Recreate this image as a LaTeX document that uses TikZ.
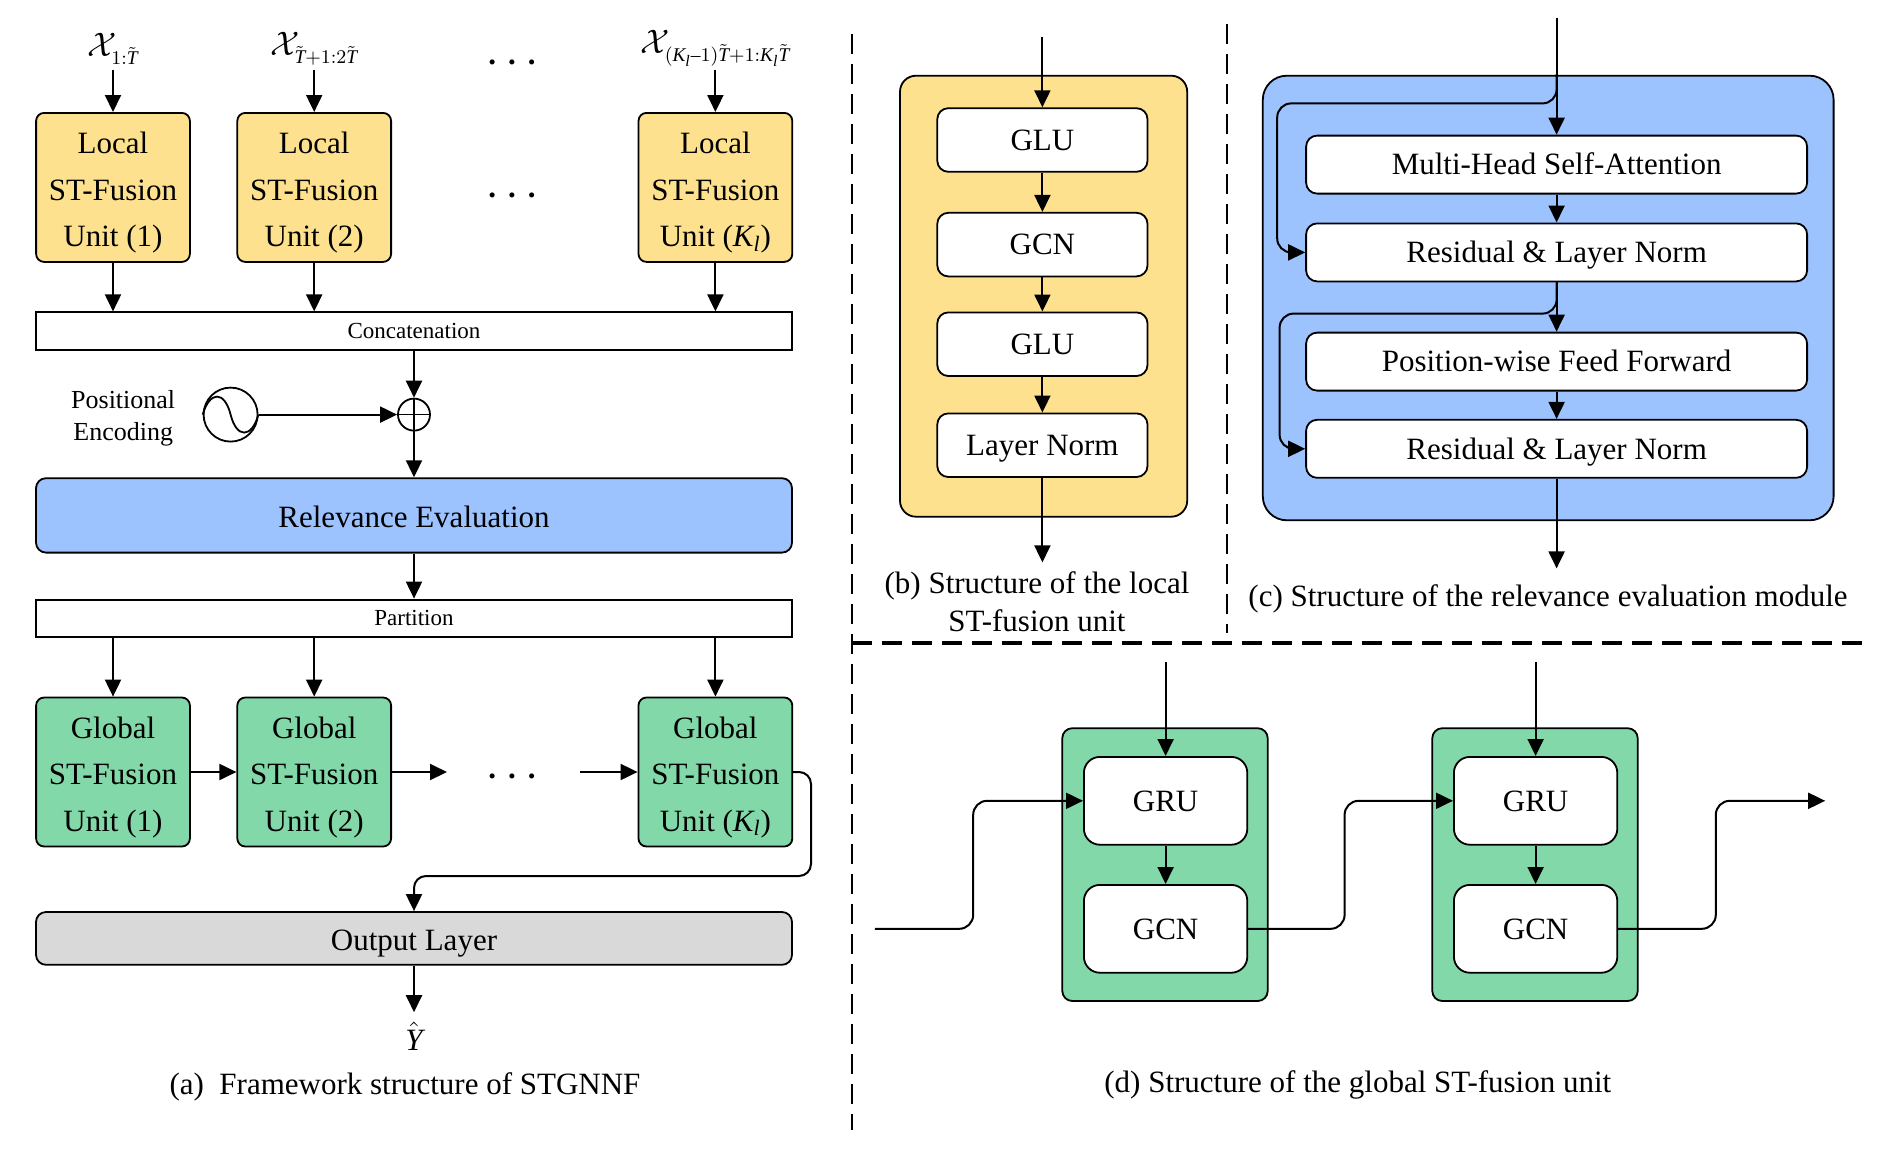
\documentclass[tikz,border=0pt]{standalone}
\usepackage{fix-cm}
\usepackage{amsmath}
\usepackage{fontspec}
\setmainfont{Liberation Serif}
\usepackage[italic]{mathastext}
\DeclareMathSizes{17}{17}{9.7}{8}
\DeclareMathSizes{15.5}{15.5}{11}{9}
\usetikzlibrary{shapes.geometric, arrows.meta}
\definecolor{localcol}{HTML}{FEE18E}
\definecolor{relcol}{HTML}{9DC3FF}
\definecolor{globalcol}{HTML}{82D8A8}
\definecolor{outcol}{HTML}{D9D9D9}
\newcommand{\mainsize}{\fontsize{15.5}{23.25}\selectfont}
\newcommand{\gapdots}{\textbf{.\hspace{6pt}.\hspace{6pt}.}}
\newcommand{\topgap}{\rule{0pt}{16pt}}
\newcommand{\subdrop}{\rule{0pt}{10pt}}
\tikzstyle{unitbase} = [rectangle, rounded corners=4pt, minimum width=76.9pt, minimum height=74.5pt, inner sep=0pt, align=center, draw=black, line width=0.9pt, font=\mainsize]
\tikzstyle{localbox} = [unitbase, fill=localcol]
\tikzstyle{globalbox} = [unitbase, fill=globalcol]
\tikzstyle{barbox} = [rectangle, minimum width=378pt, minimum height=18.6pt, inner sep=0pt, text height=7.6pt, text depth=0pt, draw=black, line width=1pt, fill=white, font=\fontsize{11.5}{13}\selectfont]
\tikzstyle{widebox} = [rectangle, rounded corners=5pt, minimum width=378pt, inner sep=0pt, text height=12.5pt, text depth=0pt, draw=black, line width=0.9pt, font=\mainsize]
\tikzstyle{outerbox} = [rectangle, draw=black, line width=0.9pt]
\tikzstyle{stepbox} = [rectangle, rounded corners=5.5pt, minimum width=105.1pt, minimum height=31.8pt, inner sep=0pt, text height=10.3pt, text depth=0pt, draw=black, line width=0.9pt, fill=white, font=\mainsize]
\tikzstyle{attnbox} = [stepbox, minimum width=250.5pt, minimum height=29pt]
\tikzstyle{cellbox} = [stepbox, rounded corners=8pt, minimum width=81.7pt, minimum height=43.9pt]
\tikzstyle{caption} = [align=center, inner sep=0pt, font=\fontsize{15.5}{19}\selectfont]
\tikzstyle{inlabel} = [inner sep=0pt, font=\fontsize{17}{17}\selectfont]
\tikzstyle{dotlabel} = [inner sep=0pt, font=\mainsize]
\tikzstyle{arrow} = [line width=1pt,-{Triangle[length=8.5pt,width=8pt]}]
\tikzstyle{rule} = [line width=1.2pt, dash pattern=on 10pt off 5pt]
\begin{document}
\begin{tikzpicture}[x=1pt,y=1pt]
	
		\useasboundingbox (0,0) rectangle (942,-578.5);
		
		% Framework structure
		\node (local1) [localbox] at (56.5,-93.7) {\topgap Local\\ST-Fusion\\Unit (1)};
		\node (local2) [localbox, right of=local1, node distance=100.6pt] {\topgap Local\\ST-Fusion\\Unit (2)};
		\node (local3) [localbox, right of=local2, node distance=200.6pt] {\topgap Local\\ST-Fusion\\Unit ($K_l$)};
		\node (xin1) [inlabel, above of=local1, node distance=69.4pt] {$\mathcal{X}_{\subdrop 1:\tilde{T}}$};
		\node (xin2) [inlabel, above of=local2, node distance=69.4pt] {$\mathcal{X}_{\subdrop \tilde{T}+1:2\tilde{T}}$};
		\node (xin3) [inlabel, above of=local3, node distance=69.4pt] {$\mathcal{X}_{\subdrop (K_l-1)\tilde{T}+1:K_l\tilde{T}}$};
		\coordinate [above of=local1, node distance=58.9pt] (arr1);
		\coordinate [above of=local2, node distance=58.9pt] (arr2);
		\coordinate [above of=local3, node distance=58.9pt] (arr3);
		\node (dots1) [dotlabel] at (256,-31) {\gapdots};
		\node (dots2) [dotlabel] at (256,-97.6) {\gapdots};
		\node (concat) [barbox] at (207,-165.5) {Concatenation};
		\node (plus) [circle, draw=black, line width=0.9pt, minimum size=16pt, inner sep=0pt, below of=concat, node distance=41.8pt] {};
		\node (sine) [circle, draw=black, line width=0.9pt, minimum size=27pt, inner sep=0pt, left of=plus, node distance=91.7pt] {};
		\node (posenc) [left of=sine, node distance=53.7pt, yshift=-1.8pt, align=center, inner sep=0pt, font=\fontsize{13}{16}\selectfont] {Positional\\Encoding};
		\node (relev) [widebox, fill=relcol, minimum height=37.2pt, below of=plus, node distance=50.4pt] {Relevance Evaluation};
		\node (part) [barbox, below of=relev, node distance=51.4pt] {Partition};
		\node (global1) [globalbox, below of=local1, node distance=292.3pt] {\topgap Global\\ST-Fusion\\Unit (1)};
		\node (global2) [globalbox, right of=global1, node distance=100.6pt] {\topgap Global\\ST-Fusion\\Unit (2)};
		\node (global3) [globalbox, right of=global2, node distance=200.6pt] {\topgap Global\\ST-Fusion\\Unit ($K_l$)};
		\node (dots3) [dotlabel] at (256,-388) {\gapdots};
		\coordinate [right of=global2, node distance=66.4pt] (gap1);
		\coordinate [left of=global3, node distance=67.55pt] (gap2);
		\coordinate (outturn) at (405.5,-438);
		\node (output) [widebox, fill=outcol, minimum height=26.4pt, below of=part, node distance=160.1pt] {Output Layer};
		\coordinate [below of=output, node distance=36.9pt] (outa);
		\node (yhat) [below of=output, node distance=48.9pt, inner sep=0pt, font=\mainsize] {$\hat{Y}$};
		\node (capa) [caption, below of=yhat, node distance=25.3pt, xshift=-4.5pt] {(a)\ \ Framework structure of STGNNF};
		
		% Local unit
		\node (yellowbox) [outerbox, fill=localcol, rounded corners=8pt, minimum width=143.6pt, minimum height=220.5pt] at (521.8,-148.1) {};
		\node (glu1) [stepbox] at (521.2,-70) {GLU};
		\node (gcnb) [stepbox, below of=glu1, node distance=52.3pt] {GCN};
		\node (glu2) [stepbox, below of=gcnb, node distance=49.8pt] {GLU};
		\node (normb) [stepbox, below of=glu2, node distance=50.5pt] {Layer Norm};
		\coordinate [above of=glu1, node distance=51.4pt] (inb);
		\coordinate [below of=normb, node distance=58.6pt] (outb);
		\node (capb) [caption, below of=outb, node distance=19.5pt, xshift=-2.7pt] {(b) Structure of the local\\ST-fusion unit};
		
		% Relevance evaluation
		\node (bluebox) [outerbox, fill=relcol, rounded corners=12pt, minimum width=285.4pt, minimum height=222.3pt] at (774.1,-149) {};
		\node (mhsa) [attnbox] at (778.3,-82.3) {Multi-Head Self-Attention};
		\node (res1) [attnbox, below of=mhsa, node distance=43.9pt] {Residual \& Layer Norm};
		\node (pw) [attnbox, below of=res1, node distance=54.6pt] {Position-wise Feed Forward};
		\node (res2) [attnbox, below of=pw, node distance=43.6pt] {Residual \& Layer Norm};
		\coordinate [above of=mhsa, node distance=73.3pt] (inc);
		\coordinate [above of=mhsa, node distance=45.3pt] (branch1);
		\coordinate [below of=res2, node distance=59.8pt] (outc);
		\coordinate (turn1) at (638.6,-51.7);
		\coordinate (turn2) at (639.8,-156.8);
		\node (capc) [caption, below of=outc, node distance=15pt, xshift=-4.3pt] {(c) Structure of the relevance evaluation module};
		
		% Global unit
		\node (greenbox1) [outerbox, fill=globalcol, rounded corners=5pt, minimum width=102.7pt, minimum height=136.4pt] at (582.5,-432.3) {};
		\node (greenbox2) [outerbox, fill=globalcol, rounded corners=5pt, minimum width=102.7pt, minimum height=136.4pt, right of=greenbox1, node distance=185pt] {};
		\node (gru1) [cellbox] at (582.8,-400.4) {GRU};
		\node (gcn1) [cellbox, below of=gru1, node distance=64pt] {GCN};
		\node (gru2) [cellbox, right of=gru1, node distance=185pt] {GRU};
		\node (gcn2) [cellbox, below of=gru2, node distance=64pt] {GCN};
		\coordinate [above of=gru1, node distance=69.4pt] (ing1);
		\coordinate [above of=gru2, node distance=69.4pt] (ing2);
		\coordinate [left of=gcn1, node distance=145.4pt] (startd);
		\coordinate [left of=gru1, node distance=96.2pt] (midd1);
		\coordinate [right of=gru1, node distance=89.5pt] (midd2);
		\coordinate [right of=gru2, node distance=90.1pt] (midd3);
		\coordinate [right of=gru2, node distance=144.8pt] (endd);
		\node (capd) [caption] at (678.9,-542.5) {(d) Structure of the global ST-fusion unit};
		
		% Dashed separators
		\coordinate (sep1a) at (426,-17);
		\coordinate (sep1b) at (426,-565);
		\coordinate (sep2a) at (613.4,-12);
		\coordinate (sep2b) at (613.4,-316.6);
		\coordinate (sep3a) at (426,-321.4);
		\coordinate (sep3b) at (931.8,-321.4);
		\draw [rule] (sep1a) -- (sep1b);
		\draw [rule] (sep2a) -- (sep2b);
		\draw [rule, line width=2pt] (sep3a) -- (sep3b);
		
		%Draw the arrows
		\draw [arrow] (arr1) -- (local1);
		\draw [arrow] (arr2) -- (local2);
		\draw [arrow] (arr3) -- (local3);
		\draw [arrow] (local1) -- (local1 |- concat.north);
		\draw [arrow] (local2) -- (local2 |- concat.north);
		\draw [arrow] (local3) -- (local3 |- concat.north);
		\draw [arrow] (concat) -- (plus);
		\draw [arrow] (sine) -- (plus);
		\draw [arrow] (plus) -- (relev);
		\draw [arrow] (relev) -- (part);
		\draw [arrow] (global1 |- part.south) -- (global1);
		\draw [arrow] (global2 |- part.south) -- (global2);
		\draw [arrow] (global3 |- part.south) -- (global3);
		\draw [arrow] (global1) -- (global2);
		\draw [arrow] (global2) -- (gap1);
		\draw [arrow] (gap2) -- (global3);
		\draw [arrow, rounded corners=6pt] (global3.east) -| (outturn) -| (output);
		\draw [arrow] (output) -- (outa);
		\draw [line width=0.8pt] (plus.north) -- (plus.south);
		\draw [line width=0.8pt] (plus.west) -- (plus.east);
		\draw [line width=0.9pt] (sine.west) .. controls +(3.5,12) and +(-3,12) .. (sine.center) .. controls +(3,-12) and +(-3.5,-12) .. (sine.east);
		
		\draw [arrow] (inb) -- (glu1);
		\draw [arrow] (glu1) -- (gcnb);
		\draw [arrow] (gcnb) -- (glu2);
		\draw [arrow] (glu2) -- (normb);
		\draw [arrow] (normb) -- (outb);
		
		\draw [arrow] (inc) -- (mhsa);
		\draw [arrow] (mhsa) -- (res1);
		\draw [arrow] (res1) -- (pw);
		\draw [arrow] (pw) -- (res2);
		\draw [arrow] (res2) -- (outc);
		\draw [arrow, rounded corners=7pt] (branch1) |- (turn1) |- (res1);
		\draw [arrow, rounded corners=7pt] (res1.south) |- (turn2) |- (res2);
		
		\draw [arrow] (ing1) -- (gru1);
		\draw [arrow] (gru1) -- (gcn1);
		\draw [arrow] (ing2) -- (gru2);
		\draw [arrow] (gru2) -- (gcn2);
		\draw [arrow, rounded corners=7pt] (startd) -| (midd1) -- (gru1);
		\draw [arrow, rounded corners=7pt] (gcn1.east) -| (midd2) -- (gru2);
		\draw [arrow, rounded corners=7pt] (gcn2.east) -| (midd3) -- (endd);
	
	\end{tikzpicture}
\end{document}
